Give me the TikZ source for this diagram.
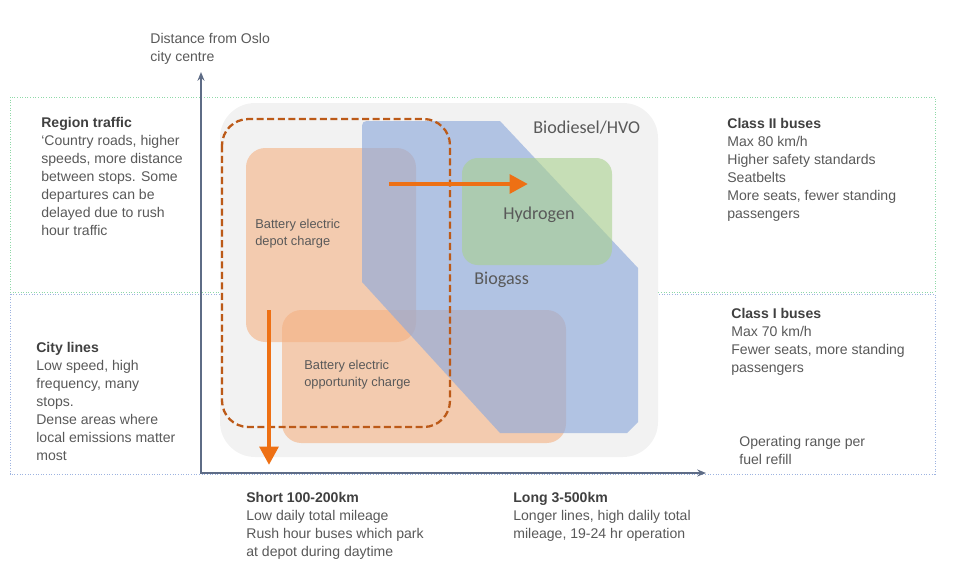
\documentclass[tikz,border=0pt]{standalone}
\usepackage{fontspec}
\setmainfont{Liberation Sans}
\newfontfamily\calibri{Carlito}
\usetikzlibrary{arrows.meta}
\definecolor{txtgray}{HTML}{595959}
\definecolor{headgray}{HTML}{404040}
\definecolor{axisblue}{HTML}{5E6C86}
\definecolor{bgray}{HTML}{F2F2F2}
\definecolor{borange}{HTML}{F4B183}
\definecolor{bblue}{HTML}{8FAADC}
\definecolor{bgreen}{HTML}{A9D18E}
\definecolor{darkorange}{HTML}{BC5A18}
\definecolor{arroworange}{HTML}{EE7014}
\definecolor{zonegreen}{HTML}{8FD9A8}
\definecolor{zoneblue}{HTML}{9DB3E0}

\begin{document}
\begin{tikzpicture}[x=0.02cm,y=-0.02cm,
	txt/.style={anchor=north west,inner sep=0pt,align=left,text=txtgray,font=\fontsize{8}{10.2}\selectfont},
	boxtext/.style={txt,font=\fontsize{7.3}{9.4}\selectfont},
	lbl/.style={anchor=north west,inner sep=0pt,text=txtgray,font=\calibri\fontsize{10.3}{12}\selectfont},
	zone/.style={densely dotted,line width=0.5pt},
	axis/.style={axisblue,line width=0.9pt,{Stealth[length=5pt,width=4pt]}-{Stealth[length=5pt,width=4pt]}},
	bigarrow/.style={arroworange,line width=2.6pt,-{Triangle[length=10.4pt,width=10.4pt]}}]
\useasboundingbox (0,0) rectangle (971,569);
\draw[zone,zonegreen] (10,97) rectangle (935,292);
\draw[zone,zoneblue] (10,294) rectangle (935,474);
\fill[bgray,rounded corners=20pt] (220,103) rectangle (658,457);
\fill[borange,opacity=0.6,rounded corners=11pt] (246,148) rectangle (416,342);
\fill[borange,opacity=0.6,rounded corners=11pt] (282,310) rectangle (566,443);
\fill[bblue,opacity=0.65]
	(362,282) -- (362,131) .. controls (362,121) .. (372,121) -- (500,121)
	-- (638,268) -- (638,422) -- (627,433) -- (500,433) -- cycle;
\fill[bgreen,opacity=0.6,rounded corners=9pt] (462,158) rectangle (612,265);
\draw[darkorange,line width=1.3pt,dash pattern=on 4pt off 2pt,rounded corners=15pt]
	(222,119) rectangle (450,427);
\coordinate (ytip) at (201,72);
\coordinate (origin) at (201,473);
\coordinate (xtip) at (706,473);
\draw[axis] (ytip) -- (origin) -- (xtip);
\coordinate (hstart) at (389,184);
\coordinate (hend) at (528,184);
\coordinate (vstart) at (269,310);
\coordinate (vend) at (269,465);
\draw[bigarrow] (hstart) -- (hend);
\draw[bigarrow] (vstart) -- (vend);
\node[txt] (oslo) at (150,33) {Distance from Oslo\\city centre};
\node[txt] (region) at (41,117) {\textcolor{headgray}{\textbf{Region traffic}}\\‘Country roads, higher\\speeds, more distance\\between stops. Some\\departures can be\\delayed due to rush\\hour traffic};
\node[txt] (city) at (36,342) {\textcolor{headgray}{\textbf{City lines}}\\Low speed, high\\frequency, many\\stops.\\Dense areas where\\local emissions matter\\most};
\node[txt] (classtwo) at (727,118) {\textcolor{headgray}{\textbf{Class II buses}}\\Max 80 km/h\\Higher safety standards\\Seatbelts\\More seats, fewer standing\\passengers};
\node[txt] (classone) at (731,308) {\textcolor{headgray}{\textbf{Class I buses}}\\Max 70 km/h\\Fewer seats, more standing\\passengers};
\node[txt] (range) at (739,436) {Operating range per\\fuel refill};
\node[txt] (short) at (246,492) {\textcolor{headgray}{\textbf{Short 100-200km}}\\Low daily total mileage\\Rush hour buses which park\\at depot during daytime};
\node[txt] (long) at (513,492) {\textcolor{headgray}{\textbf{Long 3-500km}}\\Longer lines, high dalily total\\mileage, 19-24 hr operation};
\node[lbl] (biodiesel) at (533,121) {Biodiesel/HVO};
\node[lbl] (hydrogen) at (503,207) {Hydrogen};
\node[lbl] (biogass) at (474,272) {Biogass};
\node[boxtext] (depot) at (255,219) {Battery electric\\depot charge};
\node[boxtext] (opportunity) at (304,360) {Battery electric\\opportunity charge};
\end{tikzpicture}
\end{document}
